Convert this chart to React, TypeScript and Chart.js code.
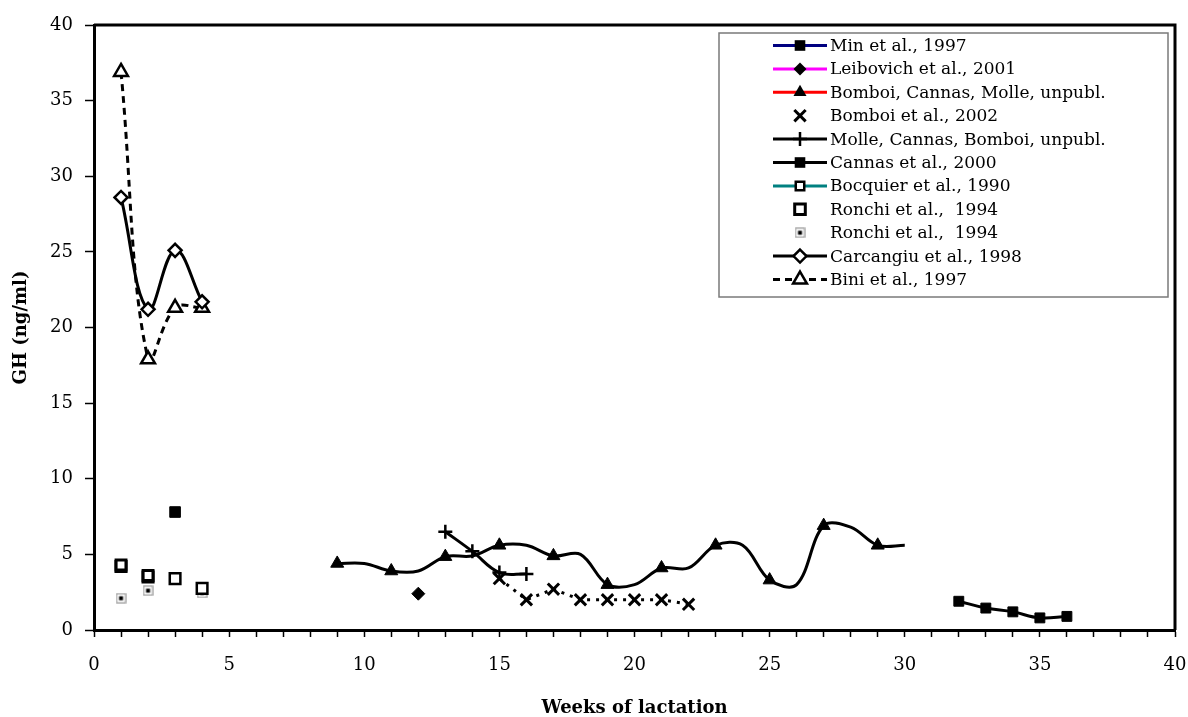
import React, { useEffect, useRef } from 'react';
import { Chart, registerables } from 'chart.js';

Chart.register(...registerables);

// ---- data: growth hormone (ng/ml) by week of lactation ----
const minWeeks = [3];
const minGH = [7.8];

const leibovichWeeks = [12];
const leibovichGH = [2.4];

const bcmWeeks = [9, 10, 11, 12, 13, 14, 15, 16, 17, 18, 19, 20, 21, 22, 23, 24, 25, 26, 27, 28, 29, 30];
const bcmGH = [4.4, 4.4, 3.9, 3.9, 4.85, 4.9, 5.6, 5.6, 4.9, 5.0, 3.0, 3.0, 4.1, 4.1, 5.6, 5.6, 3.3, 3.0, 6.9, 6.8, 5.6, 5.6];

const bomboi02Weeks = [15, 16, 17, 18, 19, 20, 21, 22];
const bomboi02GH = [3.4, 2.0, 2.7, 2.0, 2.0, 2.0, 2.0, 1.7];

const molleWeeks = [13, 14, 15, 16];
const molleGH = [6.5, 5.2, 3.8, 3.7];

const cannasWeeks = [32, 33, 34, 35, 36];
const cannasGH = [1.9, 1.45, 1.2, 0.8, 0.9];

const bocquierWeeks = [1, 2];
const bocquierGH = [4.3, 3.6];

const ronchiAWeeks = [1, 2, 3, 4];
const ronchiAGH = [4.2, 3.5, 3.4, 2.75];

const ronchiBWeeks = [1, 2, 4];
const ronchiBGH = [2.1, 2.6, 2.45];

const carcangiuWeeks = [1, 2, 3, 4];
const carcangiuGH = [28.6, 21.2, 25.1, 21.7];

const biniWeeks = [1, 2, 3, 4];
const biniGH = [36.9, 17.9, 21.3, 21.3];

const seriesLabels = [
  'Min et al., 1997',
  'Leibovich et al., 2001',
  'Bomboi, Cannas, Molle, unpubl.',
  'Bomboi et al., 2002',
  'Molle, Cannas, Bomboi, unpubl.',
  'Cannas et al., 2000',
  'Bocquier et al., 1990',
  'Ronchi et al.,  1994',
  'Ronchi et al.,  1994',
  'Carcangiu et al., 1998',
  'Bini et al., 1997',
];

const xTicksEvery = 5;
const yTicksEvery = 5;

const SERIF = '"DejaVu Serif", serif';

const zip = (xs: number[], ys: number[]) => xs.map((x, i) => ({ x, y: ys[i] }));

// small square with grey outline and black centre
function makeDotSquare(): HTMLCanvasElement {
  const c = document.createElement('canvas');
  c.width = 11;
  c.height = 11;
  const g = c.getContext('2d')!;
  g.fillStyle = '#ffffff';
  g.fillRect(0, 0, 11, 11);
  g.strokeStyle = '#9a9a9a';
  g.lineWidth = 1.2;
  g.strokeRect(1, 1, 9, 9);
  g.fillStyle = '#000000';
  g.fillRect(3.5, 3.5, 4, 4);
  return c;
}

type MarkerKind =
  | 'squareFilled'
  | 'diamondFilled'
  | 'triangleFilled'
  | 'x'
  | 'plus'
  | 'squareOpenSmall'
  | 'squareOpen'
  | 'dotSquare'
  | 'diamondOpen'
  | 'triangleOpen';

function drawMarker(ctx: CanvasRenderingContext2D, kind: MarkerKind, x: number, y: number, dot: HTMLCanvasElement) {
  ctx.save();
  ctx.setLineDash([]);
  ctx.strokeStyle = '#000';
  ctx.fillStyle = '#000';
  const sq = (r: number) => {
    const s = Math.SQRT1_2 * r;
    ctx.beginPath();
    ctx.rect(x - s, y - s, 2 * s, 2 * s);
  };
  const dia = (r: number) => {
    ctx.beginPath();
    ctx.moveTo(x, y - r);
    ctx.lineTo(x + r, y);
    ctx.lineTo(x, y + r);
    ctx.lineTo(x - r, y);
    ctx.closePath();
  };
  const tri = (r: number) => {
    ctx.beginPath();
    ctx.moveTo(x, y - r);
    ctx.lineTo(x + r * Math.sin(Math.PI / 3), y + r / 2);
    ctx.lineTo(x - r * Math.sin(Math.PI / 3), y + r / 2);
    ctx.closePath();
  };
  switch (kind) {
    case 'squareFilled':
      sq(7.5);
      ctx.fill();
      break;
    case 'diamondFilled':
      dia(6.5);
      ctx.fill();
      break;
    case 'triangleFilled':
      tri(7.5);
      ctx.fill();
      break;
    case 'x': {
      const o = Math.SQRT1_2 * 8;
      ctx.lineWidth = 3;
      ctx.beginPath();
      ctx.moveTo(x - o, y - o);
      ctx.lineTo(x + o, y + o);
      ctx.moveTo(x - o, y + o);
      ctx.lineTo(x + o, y - o);
      ctx.stroke();
      break;
    }
    case 'plus':
      ctx.lineWidth = 2.5;
      ctx.beginPath();
      ctx.moveTo(x, y - 7);
      ctx.lineTo(x, y + 7);
      ctx.moveTo(x - 7, y);
      ctx.lineTo(x + 7, y);
      ctx.stroke();
      break;
    case 'squareOpenSmall':
      sq(6);
      ctx.fillStyle = '#fff';
      ctx.fill();
      ctx.lineWidth = 2.5;
      ctx.stroke();
      break;
    case 'squareOpen':
      sq(7.5);
      ctx.fillStyle = '#fff';
      ctx.fill();
      ctx.lineWidth = 3;
      ctx.stroke();
      break;
    case 'dotSquare':
      ctx.drawImage(dot, x - 5.5, y - 5.5);
      break;
    case 'diamondOpen':
      dia(6.5);
      ctx.fillStyle = '#fff';
      ctx.fill();
      ctx.lineWidth = 2.5;
      ctx.stroke();
      break;
    case 'triangleOpen':
      tri(8);
      ctx.fillStyle = '#fff';
      ctx.fill();
      ctx.lineWidth = 2.5;
      ctx.stroke();
      break;
  }
  ctx.restore();
}

const legendLineColors: (string | null)[] = [
  '#000080', '#ff00ff', '#ff0000', null, '#000000', '#000000', '#008080', null, null, '#000000', '#000000',
];
const legendMarkers: MarkerKind[] = [
  'squareFilled', 'diamondFilled', 'triangleFilled', 'x', 'plus', 'squareFilled',
  'squareOpenSmall', 'squareOpen', 'dotSquare', 'diamondOpen', 'triangleOpen',
];

export default function App() {
  const canvasRef = useRef<HTMLCanvasElement | null>(null);

  useEffect(() => {
    const canvas = canvasRef.current;
    if (!canvas) return;
    const dot = makeDotSquare();

    const framePlugin = {
      id: 'frame',
      afterDatasetsDraw(chart: Chart) {
        const { ctx, chartArea: a } = chart;
        ctx.save();
        ctx.strokeStyle = '#000';
        ctx.lineWidth = 3;
        ctx.beginPath();
        ctx.moveTo(a.left, a.top);
        ctx.lineTo(a.right, a.top);
        ctx.lineTo(a.right, a.bottom);
        ctx.stroke();
        ctx.restore();
      },
    };

    const legendPlugin = {
      id: 'boxLegend',
      afterDraw(chart: Chart) {
        const ctx = chart.ctx;
        const bx = 719, by = 33, bw = 449, bh = 264;
        ctx.save();
        ctx.fillStyle = '#fff';
        ctx.fillRect(bx, by, bw, bh);
        ctx.strokeStyle = '#7a7a7a';
        ctx.lineWidth = 1.5;
        ctx.strokeRect(bx, by, bw, bh);
        ctx.font = `17px ${SERIF}`;
        ctx.textBaseline = 'middle';
        ctx.textAlign = 'left';
        seriesLabels.forEach((label, i) => {
          const y = 45.5 + i * 23.4;
          const lc = legendLineColors[i];
          if (lc) {
            ctx.save();
            ctx.strokeStyle = lc;
            ctx.lineWidth = 3;
            if (i === 10) ctx.setLineDash([7, 5]);
            ctx.beginPath();
            ctx.moveTo(773, y);
            ctx.lineTo(827, y);
            ctx.stroke();
            ctx.restore();
          }
          drawMarker(ctx, legendMarkers[i], 800, y, dot);
          ctx.fillStyle = '#000';
          ctx.fillText(label, 830, y + 1);
        });
        ctx.restore();
      },
    };

    const chart = new Chart(canvas, {
      type: 'line',
      data: {
        datasets: [
          {
            label: seriesLabels[0],
            data: zip(minWeeks, minGH),
            showLine: false,
            pointStyle: 'rect',
            pointRadius: 7.5,
            pointBackgroundColor: '#000',
            pointBorderColor: '#000',
            pointBorderWidth: 1,
          },
          {
            label: seriesLabels[1],
            data: zip(leibovichWeeks, leibovichGH),
            showLine: false,
            pointStyle: 'rectRot',
            pointRadius: 6.5,
            pointBackgroundColor: '#000',
            pointBorderColor: '#000',
            pointBorderWidth: 1,
          },
          {
            label: seriesLabels[2],
            data: zip(bcmWeeks, bcmGH),
            borderColor: '#000',
            borderWidth: 3,
            tension: 0.35,
            borderJoinStyle: 'round',
            pointStyle: 'triangle',
            pointRadius: bcmWeeks.map((w) => (w % 2 === 1 ? 7.5 : 0)),
            pointBackgroundColor: '#000',
            pointBorderColor: '#000',
            pointBorderWidth: 1,
          },
          {
            label: seriesLabels[3],
            data: zip(bomboi02Weeks, bomboi02GH),
            borderColor: '#000',
            borderWidth: 3,
            borderDash: [3, 6],
            tension: 0,
            pointStyle: 'crossRot',
            pointRadius: 8,
            pointBorderColor: '#000',
            pointBorderWidth: 3,
          },
          {
            label: seriesLabels[4],
            data: zip(molleWeeks, molleGH),
            borderColor: '#000',
            borderWidth: 3,
            tension: 0.4,
            pointStyle: 'cross',
            pointRadius: 7,
            pointBorderColor: '#000',
            pointBorderWidth: 2.5,
          },
          {
            label: seriesLabels[5],
            data: zip(cannasWeeks, cannasGH),
            borderColor: '#000',
            borderWidth: 3,
            tension: 0.4,
            pointStyle: 'rect',
            pointRadius: 7,
            pointBackgroundColor: '#000',
            pointBorderColor: '#000',
            pointBorderWidth: 1,
          },
          {
            label: seriesLabels[6],
            data: zip(bocquierWeeks, bocquierGH),
            showLine: false,
            pointStyle: 'rect',
            pointRadius: 7,
            pointBackgroundColor: '#fff',
            pointBorderColor: '#000',
            pointBorderWidth: 3,
          },
          {
            label: seriesLabels[7],
            data: zip(ronchiAWeeks, ronchiAGH),
            showLine: false,
            pointStyle: 'rect',
            pointRadius: 7.5,
            pointBackgroundColor: '#fff',
            pointBorderColor: '#000',
            pointBorderWidth: 2.5,
          },
          {
            label: seriesLabels[8],
            data: zip(ronchiBWeeks, ronchiBGH),
            showLine: false,
            pointStyle: dot,
            pointRadius: 6,
          },
          {
            label: seriesLabels[9],
            data: zip(carcangiuWeeks, carcangiuGH),
            borderColor: '#000',
            borderWidth: 3,
            tension: 0.4,
            pointStyle: 'rectRot',
            pointRadius: 6.5,
            pointBackgroundColor: '#fff',
            pointBorderColor: '#000',
            pointBorderWidth: 2.5,
          },
          {
            label: seriesLabels[10],
            data: zip(biniWeeks, biniGH),
            borderColor: '#000',
            borderWidth: 3,
            borderDash: [7, 5],
            tension: 0.4,
            pointStyle: 'triangle',
            pointRadius: 8,
            pointBackgroundColor: '#fff',
            pointBorderColor: '#000',
            pointBorderWidth: 2.5,
          },
        ],
      },
      options: {
        responsive: false,
        animation: false,
        devicePixelRatio: 1,
        layout: { padding: { top: 25, right: 13, left: 0, bottom: 0 } },
        plugins: {
          legend: { display: false },
          tooltip: { enabled: false },
        },
        scales: {
          x: {
            type: 'linear',
            min: 0,
            max: 40,
            ticks: {
              stepSize: 1,
              autoSkip: false,
              maxRotation: 0,
              color: '#000',
              padding: 18,
              font: { family: SERIF, size: 18 },
              callback: (v: any) => (Number(v) % xTicksEvery === 0 ? String(v) : ''),
            },
            grid: {
              drawOnChartArea: false,
              drawTicks: true,
              tickLength: 7,
              tickColor: '#000',
              tickWidth: 1.5,
            },
            border: { display: true, color: '#000', width: 3 },
            title: {
              display: true,
              text: 'Weeks of lactation',
              color: '#000',
              font: { family: SERIF, size: 18, weight: 'bold', lineHeight: 1 },
              padding: { top: 0, bottom: 0 },
            },
            afterFit: (s: any) => {
              s.height = 87;
              s.paddingLeft = 0;
              s.paddingRight = 0;
            },
          },
          y: {
            type: 'linear',
            min: 0,
            max: 40,
            ticks: {
              stepSize: yTicksEvery,
              color: '#000',
              padding: 12,
              font: { family: SERIF, size: 18 },
            },
            grid: {
              drawOnChartArea: false,
              drawTicks: true,
              tickLength: 9,
              tickColor: '#000',
              tickWidth: 1.5,
            },
            border: { display: true, color: '#000', width: 3 },
            title: {
              display: true,
              text: 'GH (ng/ml)',
              color: '#000',
              font: { family: SERIF, size: 18, weight: 'bold', lineHeight: 1.2 },
              padding: { top: 11, bottom: 0 },
            },
            afterFit: (s: any) => {
              s.width = 94;
              s.paddingTop = 0;
              s.paddingBottom = 0;
            },
          },
        },
      },
      plugins: [framePlugin, legendPlugin],
    } as any);

    return () => chart.destroy();
  }, []);

  return (
    <div style={{ position: 'fixed', left: 0, top: 0, width: 1188, height: 717, background: '#fff' }}>
      <canvas ref={canvasRef} width={1188} height={717} style={{ display: 'block' }} />
    </div>
  );
}
